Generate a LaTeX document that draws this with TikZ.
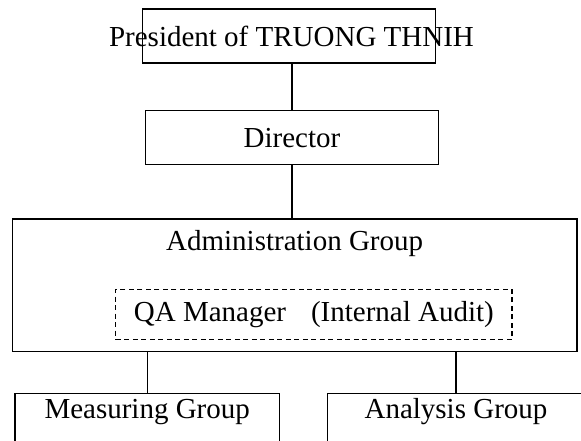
\documentclass[tikz,border=0pt]{standalone}
\usepackage{fontspec}
\setmainfont{Liberation Serif}

\begin{document}
\begin{tikzpicture}[
  x=1pt, y=-1pt,
  font=\fontsize{29}{32}\selectfont,
  box/.style={draw, line width=1.2pt, inner sep=0},
  dashbox/.style={box, dash pattern=on 5pt off 3.5pt},
  grpbox/.style={box, anchor=north, inner ysep=3pt, text height=22.3pt, text depth=60pt},
  conn/.style={line width=1.2pt},
]
  \useasboundingbox (0,0) rectangle (581,441);
  \clip (0,0) rectangle (581,441);

  \node[box, minimum width=293pt, minimum height=54pt] (pres) at (289.2,36)
    {\makebox[0pt]{\hspace{4.6pt}President of TRUONG THNIH}};
  \node[box, minimum width=292.6pt, minimum height=54pt] (dir) at (292,137.7) {Director};
  \node[box, anchor=north, minimum width=564.7pt, inner ysep=3pt, text height=28.7pt, text depth=98pt]
    (admin) at (294.6,218.3) {Administration Group};
  \node[dashbox, minimum width=396.3pt, minimum height=50pt] (qa) at (313.9,314.3)
    {QA Manager\hspace{0.86em}(Internal Audit)};

  \node[grpbox, minimum width=264.3pt] (meas) at (147.2,392.7) {Measuring Group};
  \node[grpbox, minimum width=256.6pt] (ana) at (456,392.7) {Analysis Group};

  \draw[conn] (dir.north |- pres.south) -- (dir.north);
  \draw[conn] (dir.south) -- (dir.south |- admin.north);
  \foreach \grp in {meas, ana}
    \draw[conn] (\grp.north |- admin.south) -- (\grp.north);
\end{tikzpicture}
\end{document}
